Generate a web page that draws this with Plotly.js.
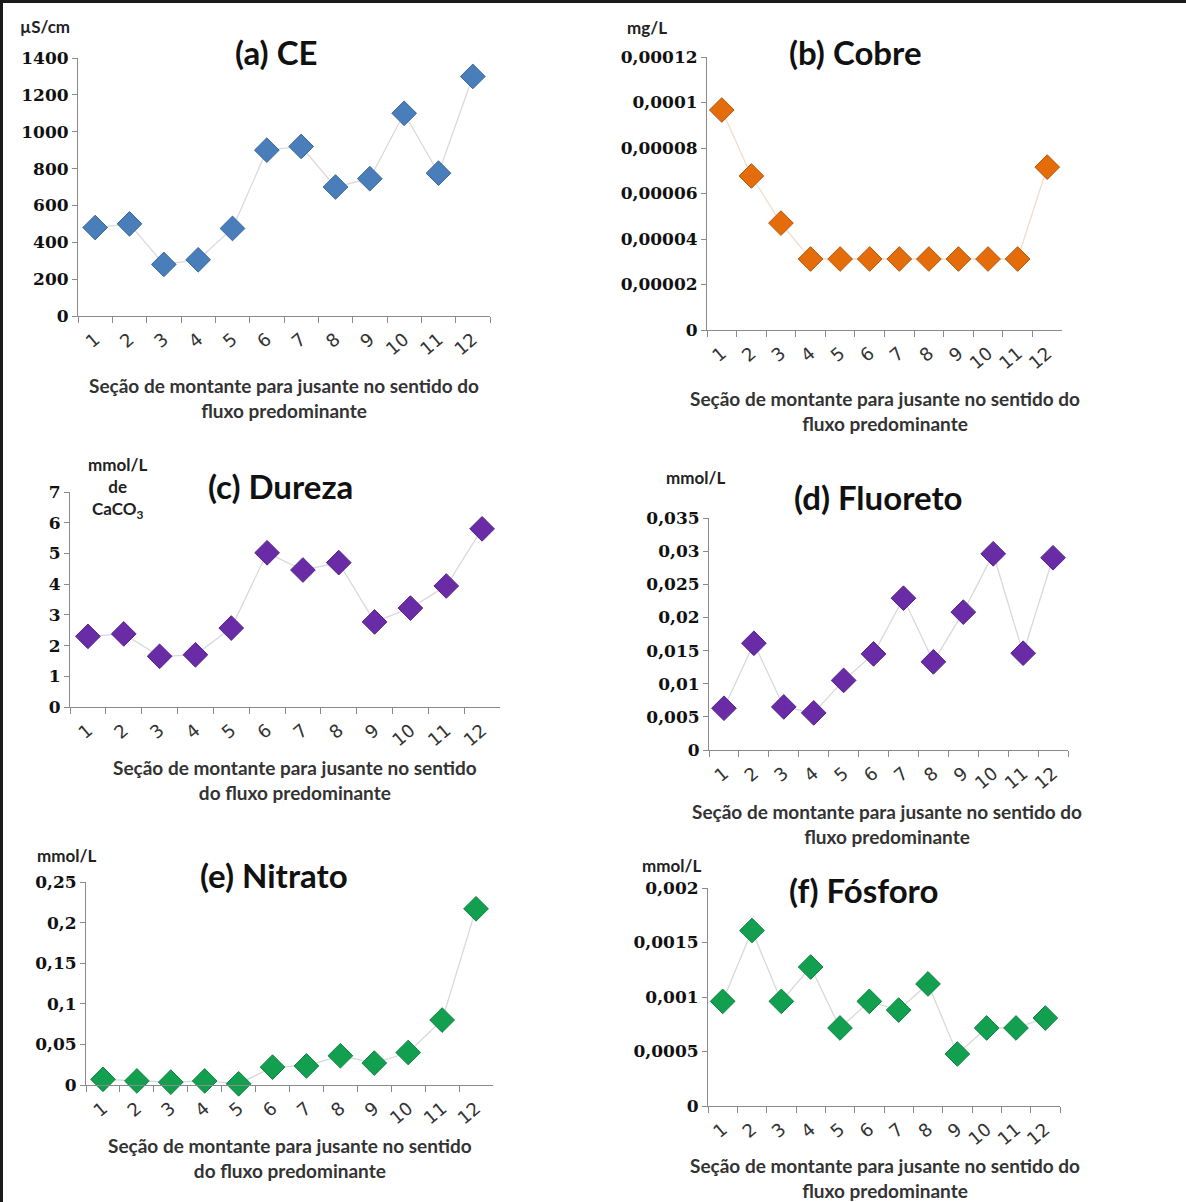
<!DOCTYPE html>
<html>
<head>
<meta charset="utf-8">
<script src="https://cdn.plot.ly/plotly-3.0.1.min.js"></script>
<style>
html,body{margin:0;padding:0;background:#fff;}
#chart{width:1186px;height:1202px;}
</style>
</head>
<body>
<div id="chart"></div>
<script>
// ---- data ----
const sections = ["1","2","3","4","5","6","7","8","9","10","11","12"];

const ce       = [480, 500, 280, 305, 475, 900, 920, 700, 745, 1100, 775, 1300];
const cobre    = [0.0000967, 0.0000677, 0.000047, 0.0000312, 0.0000312, 0.0000312, 0.0000312, 0.0000312, 0.0000312, 0.0000312, 0.0000312, 0.0000716];
const dureza   = [2.3, 2.38, 1.65, 1.7, 2.57, 5.02, 4.46, 4.7, 2.77, 3.22, 3.94, 5.8];
const fluoreto = [0.0063, 0.0161, 0.0065, 0.0056, 0.0105, 0.0145, 0.0229, 0.0133, 0.0208, 0.0296, 0.0146, 0.029];
const nitrato  = [0.007, 0.005, 0.0035, 0.005, 0.0015, 0.022, 0.0235, 0.036, 0.027, 0.04, 0.08, 0.217];
const fosforo  = [0.00096, 0.00161, 0.00096, 0.001275, 0.000716, 0.00096, 0.00088, 0.00112, 0.000477, 0.000716, 0.000716, 0.000807];

const ticksA = [0,200,400,600,800,1000,1200,1400];
const labelsA = ["0","200","400","600","800","1000","1200","1400"];
const ticksB = [0,0.00002,0.00004,0.00006,0.00008,0.0001,0.00012];
const labelsB = ["0","0,00002","0,00004","0,00006","0,00008","0,0001","0,00012"];
const ticksC = [0,1,2,3,4,5,6,7];
const labelsC = ["0","1","2","3","4","5","6","7"];
const ticksD = [0,0.005,0.01,0.015,0.02,0.025,0.03,0.035];
const labelsD = ["0","0,005","0,01","0,015","0,02","0,025","0,03","0,035"];
const ticksE = [0,0.05,0.1,0.15,0.2,0.25];
const labelsE = ["0","0,05","0,1","0,15","0,2","0,25"];
const ticksF = [0,0.0005,0.001,0.0015,0.002];
const labelsF = ["0","0,0005","0,001","0,0015","0,002"];

const titles = ["(a) CE","(b) Cobre","(c) Dureza","(d) Fluoreto","(e) Nitrato","(f) Fósforo"];
const units = ["µS/cm","mg/L","mmol/L<br>de<br>CaCO<sub>3</sub>","mmol/L","mmol/L","mmol/L"];
const xTitleLong = "Seção de montante para jusante no sentido do<br>fluxo predominante";
const xTitleShort = "Seção de montante para jusante no sentido<br>do fluxo predominante";

// ---- layout geometry (pixels) ----
const W = 1186, H = 1202;
const panels = [
  {y: ce,       tv: ticksA, tt: labelsA, yr:[0,1400],    x0:78,  x1:490,  top:58,  bot:316,  col:"#4A7EBB", edge:"#3B679C", line:"#DCDAD6",
   title:[276,52], unit:[45,27], xt:[284,398], xtext: xTitleLong},
  {y: cobre,    tv: ticksB, tt: labelsB, yr:[0,0.00012], x0:707, x1:1062, top:57,  bot:330,  col:"#E46C0A", edge:"#B4560C", line:"#F3DCC8",
   title:[855,52], unit:[647,28], xt:[885,411], xtext: xTitleLong},
  {y: dureza,   tv: ticksC, tt: labelsC, yr:[0,7],       x0:70,  x1:500,  top:492, bot:707,  col:"#6A2CA6", edge:"#55238A", line:"#D9D9D9",
   title:[280,486], unit:[117,488], xt:[295,780], xtext: xTitleShort},
  {y: fluoreto, tv: ticksD, tt: labelsD, yr:[0,0.035],   x0:709, x1:1068, top:518, bot:750,  col:"#6A2CA6", edge:"#55238A", line:"#D9D9D9",
   title:[878,497], unit:[695,477], xt:[887,824], xtext: xTitleLong},
  {y: nitrato,  tv: ticksE, tt: labelsE, yr:[0,0.25],    x0:86,  x1:493,  top:882, bot:1085, col:"#12A050", edge:"#0E8442", line:"#D9D9D9",
   title:[274,875], unit:[66,855], xt:[290,1158], xtext: xTitleShort},
  {y: fosforo,  tv: ticksF, tt: labelsF, yr:[0,0.002],   x0:708, x1:1060, top:888, bot:1106, col:"#12A050", edge:"#0E8442", line:"#D9D9D9",
   title:[863,890], unit:[671,865], xt:[885,1178], xtext: xTitleLong}
];

const traces = [];
const layout = {
  width: W, height: H,
  margin: {l:0, r:0, t:0, b:0},
  paper_bgcolor: "#ffffff",
  plot_bgcolor: "#ffffff",
  showlegend: false,
  annotations: [],
  shapes: [
    {type:"line", xref:"paper", yref:"paper", x0:0, x1:1, y0:1-1.5/H, y1:1-1.5/H, line:{color:"#1a1a1a", width:3}},
    {type:"line", xref:"paper", yref:"paper", x0:1.5/W, x1:1.5/W, y0:0, y1:1, line:{color:"#1a1a1a", width:3}}
  ]
};

panels.forEach((p, i) => {
  const n = i === 0 ? "" : String(i + 1);
  traces.push({
    type: "scatter", mode: "lines+markers",
    x: sections, y: p.y,
    xaxis: "x" + n, yaxis: "y" + n,
    line: {color: p.line, width: 1.3},
    marker: {symbol: "diamond", size: 19, color: p.col, line: {color: p.edge, width: 1}},
    cliponaxis: false,
    hoverinfo: "skip"
  });
  layout["xaxis" + n] = {
    domain: [p.x0 / W, p.x1 / W],
    anchor: "y" + n,
    type: "category",
    range: [-0.5, sections.length - 0.5],
    tickson: "boundaries",
    ticks: "outside", ticklen: 6, tickcolor: "#8a8a8a", tickwidth: 1,
    showline: true, linecolor: "#8a8a8a", linewidth: 1,
    showgrid: false, zeroline: false,
    tickangle: -40,
    ticklabelstandoff: 5,
    tickfont: {family: "DejaVu Sans", size: 18, color: "#333"},
    fixedrange: true
  };
  layout["yaxis" + n] = {
    domain: [1 - p.bot / H, 1 - p.top / H],
    anchor: "x" + n,
    range: p.yr,
    tickvals: p.tv, ticktext: p.tt,
    ticks: "outside", ticklen: 5, tickcolor: "#8a8a8a", tickwidth: 1,
    showline: true, linecolor: "#8a8a8a", linewidth: 1,
    showgrid: false, zeroline: false,
    tickfont: {family: "DejaVu Serif", size: 17, color: "#111", weight: "bold"},
    fixedrange: true
  };
  layout.annotations.push({
    xref: "paper", yref: "paper", x: p.title[0] / W, y: 1 - p.title[1] / H,
    xanchor: "center", yanchor: "middle", showarrow: false,
    text: titles[i],
    font: {family: "Lato", size: 33, color: "#111", weight: "bold"}
  });
  layout.annotations.push({
    xref: "paper", yref: "paper", x: p.unit[0] / W, y: 1 - p.unit[1] / H,
    xanchor: "center", yanchor: "middle", showarrow: false,
    text: units[i],
    font: {family: "Lato", size: 17, color: "#222", weight: "bold"}
  });
  layout.annotations.push({
    xref: "paper", yref: "paper", x: p.xt[0] / W, y: 1 - p.xt[1] / H,
    xanchor: "center", yanchor: "middle", showarrow: false,
    text: p.xtext,
    font: {family: "Lato", size: 19, color: "#333", weight: "bold"}
  });
});

Plotly.newPlot("chart", traces, layout, {displayModeBar: false, staticPlot: true});
</script>
</body>
</html>
